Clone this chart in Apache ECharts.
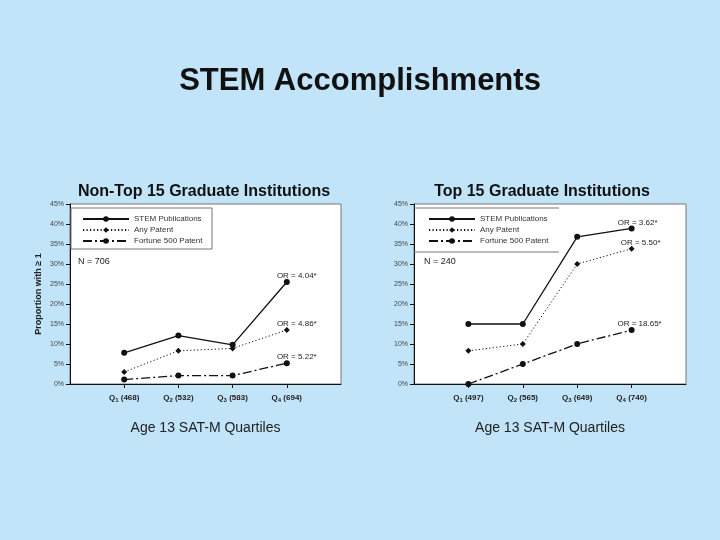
<!DOCTYPE html>
<html>
<head>
<meta charset="utf-8">
<script src="https://cdn.jsdelivr.net/npm/echarts@6/dist/echarts.min.js"></script>
<style>
  html, body { margin: 0; padding: 0; background: #c1e4f8; }
  #main { width: 720px; height: 540px; }
</style>
</head>
<body>
<div id="main"></div>
<script>
// quartile positions on the x axis and their mean SAT-M scores
const quartiles = [1, 2, 3, 4];
const nonTopScores = ['468', '532', '583', '694'];
const topScores = ['497', '565', '649', '740'];

// proportions with >= 1 (percent)
const nonTopStem = [7.8, 12.1, 9.8, 25.5];
const nonTopAnyPatent = [3.0, 8.3, 8.9, 13.5];
const nonTopFortune = [1.1, 2.1, 2.1, 5.2];

const topStem = [15, 15, 36.8, 38.9];
const topAnyPatent = [8.3, 10, 30, 33.8];
const topFortune = [0, 5, 10, 13.5];

// odds ratios printed at Q4
const nonTopOR = ['OR = 4.04*', 'OR = 4.86*', 'OR = 5.22*'];
const topOR = ['OR = 3.62*', 'OR = 5.50*', 'OR = 18.65*'];

const seriesNames = ['STEM Publications', 'Any Patent', 'Fortune 500 Patent'];
const yMin = 0, yMax = 45, yStep = 5;

const chart = echarts.init(document.getElementById('main'));
const font = 'Liberation Sans, Arial, sans-serif';

const lineStyles = [
    { type: 'solid', width: 1.3 },
    { type: [1.2, 2.3], width: 1 },
    { type: [9, 3, 2, 3], width: 1.3 }
];
const symbols = ['circle', 'diamond', 'circle'];
const symbolSizes = [6, 6, 6];

function makeSeries(values, idx, axis, orText, offsetX) {
    const data = quartiles.map((q, i) => [q, values[i]]);
    return {
        name: seriesNames[idx],
        type: 'line',
        xAxisIndex: axis,
        yAxisIndex: axis,
        data: data,
        symbol: symbols[idx],
        symbolSize: symbolSizes[idx],
        itemStyle: { color: '#111' },
        lineStyle: Object.assign({ color: '#111' }, lineStyles[idx]),
        label: {
            show: true,
            position: 'top',
            distance: 1,
            offset: [offsetX, 2],
            fontFamily: font,
            fontSize: 8,
            color: '#222',
            formatter: p => (p.dataIndex === quartiles.length - 1 ? orText : '')
        },
        animation: false
    };
}

function xLabel(scores) {
    return function (v) {
        const i = quartiles.indexOf(v);
        if (i < 0) return '';
        return '{q|Q}{s|' + (i + 1) + '}{q| (' + scores[i] + ')}';
    };
}

const xRich = {
    q: { fontFamily: font, fontSize: 8, fontWeight: 'bold', color: '#222', lineHeight: 12 },
    s: { fontFamily: font, fontSize: 6, fontWeight: 'bold', color: '#222', lineHeight: 12, padding: [5, 0, 0, 0] }
};

function xAxis(grid, scores) {
    return {
        type: 'value', gridIndex: grid, min: 0, max: 5, interval: 1,
        name: 'Age 13 SAT-M Quartiles', nameLocation: 'middle', nameGap: 37,
        nameTextStyle: { fontFamily: font, fontSize: 14, color: '#222' },
        axisLine: { lineStyle: { color: '#111', width: 1 } },
        axisTick: { show: true, length: 4, lineStyle: { color: '#111' }, customValues: quartiles },
        axisLabel: { margin: 8, formatter: xLabel(scores), rich: xRich, customValues: quartiles },
        splitLine: { show: false }
    };
}

function yAxis(grid, withName) {
    return {
        type: 'value', gridIndex: grid, min: yMin, max: yMax, interval: yStep,
        name: withName ? 'Proportion with \u2265 1' : '',
        nameLocation: 'middle', nameGap: 27, nameRotate: 90,
        nameTextStyle: { fontFamily: font, fontSize: 9, fontWeight: 'bold', color: '#222' },
        axisLine: { show: true, lineStyle: { color: '#111', width: 1 } },
        axisTick: { show: true, length: 4, lineStyle: { color: '#111' } },
        axisLabel: { formatter: '{value}%', fontFamily: font, fontSize: 7, color: '#444', margin: 6 },
        splitLine: { show: false }
    };
}

const legendText = { fontFamily: font, fontSize: 8, color: '#333' };

chart.setOption({
    backgroundColor: '#c1e4f8',
    title: [
        { text: 'STEM Accomplishments', left: 'center', top: 61,
          textStyle: { fontFamily: font, fontSize: 31, fontWeight: 'bold', color: '#111' } },
        { text: 'Non-Top 15 Graduate Institutions', left: 199, textAlign: 'center', top: 179,
          textStyle: { fontFamily: font, fontSize: 16, fontWeight: 'bold', color: '#111' } },
        { text: 'Top 15 Graduate Institutions', left: 537, textAlign: 'center', top: 179,
          textStyle: { fontFamily: font, fontSize: 16, fontWeight: 'bold', color: '#111' } }
    ],
    grid: [
        { left: 70, top: 204, width: 271, height: 180, show: true,
          backgroundColor: '#fff', borderColor: '#777', borderWidth: 1 },
        { left: 414, top: 204, width: 272, height: 180, show: true,
          backgroundColor: '#fff', borderColor: '#777', borderWidth: 1 }
    ],
    xAxis: [xAxis(0, nonTopScores), xAxis(1, topScores)],
    yAxis: [yAxis(0, true), yAxis(1, false)],
    legend: [
        { orient: 'vertical', left: 77, top: 210, itemWidth: 46, itemHeight: 7, itemGap: 3,
          data: seriesNames, textStyle: legendText, selectedMode: false },
        { orient: 'vertical', left: 423, top: 210, itemWidth: 46, itemHeight: 7, itemGap: 3,
          data: seriesNames, textStyle: legendText, selectedMode: false }
    ],
    graphic: [
        { type: 'rect', shape: { x: 71, y: 208, width: 141, height: 41 },
          style: { fill: 'none', stroke: '#777', lineWidth: 1 }, z: 100 },
        { type: 'line', shape: { x1: 414, y1: 208, x2: 559, y2: 208 },
          style: { stroke: '#777', lineWidth: 1 }, z: 100 },
        { type: 'line', shape: { x1: 414, y1: 252, x2: 559, y2: 252 },
          style: { stroke: '#777', lineWidth: 1 }, z: 100 },
        { type: 'text', left: 78, top: 257,
          style: { text: 'N = 706', fontFamily: font, fontSize: 9, fill: '#222' }, z: 100 },
        { type: 'text', left: 424, top: 257,
          style: { text: 'N = 240', fontFamily: font, fontSize: 9, fill: '#222' }, z: 100 }
    ],
    series: [
        makeSeries(nonTopStem, 0, 0, nonTopOR[0], 10),
        makeSeries(nonTopAnyPatent, 1, 0, nonTopOR[1], 10),
        makeSeries(nonTopFortune, 2, 0, nonTopOR[2], 10),
        makeSeries(topStem, 0, 1, topOR[0], 6),
        makeSeries(topAnyPatent, 1, 1, topOR[1], 9),
        makeSeries(topFortune, 2, 1, topOR[2], 8)
    ]
});
</script>
</body>
</html>
